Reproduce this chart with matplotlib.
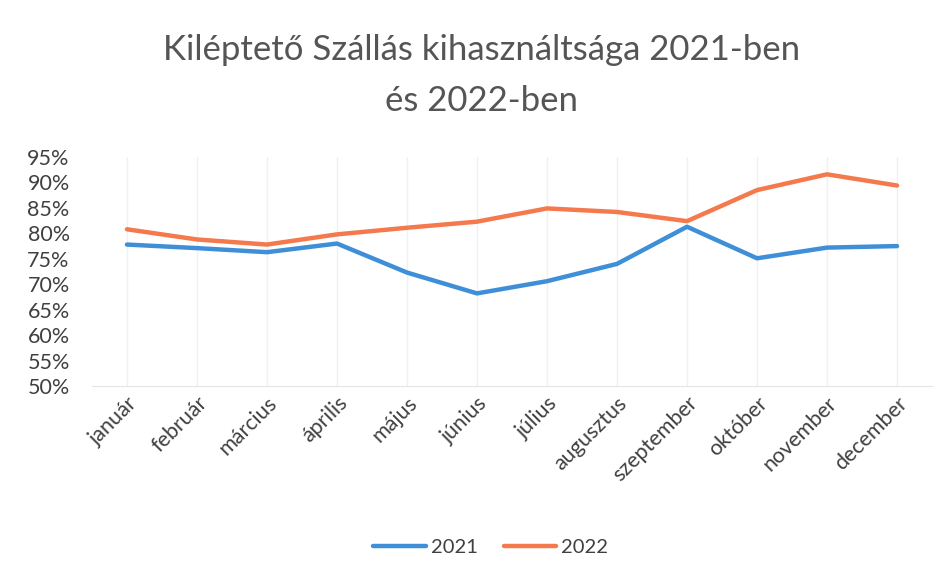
import matplotlib.pyplot as plt
from matplotlib.ticker import PercentFormatter

plt.rcParams['font.family'] = ['Lato', 'DejaVu Sans']

# havi adatok
months = ['január', 'február', 'március', 'április', 'május', 'június',
          'július', 'augusztus', 'szeptember', 'október', 'november', 'december']
occ_2021 = [77.8, 77.1, 76.3, 78.0, 72.3, 68.2, 70.6, 74.0, 81.3, 75.1, 77.2, 77.5]
occ_2022 = [80.8, 78.8, 77.8, 79.8, 81.1, 82.3, 84.9, 84.2, 82.4, 88.5, 91.6, 89.4]
y_ticks = [50, 55, 60, 65, 70, 75, 80, 85, 90, 95]

text_col = '#404040'

fig = plt.figure(figsize=(9.53, 5.79), dpi=100)
ax = fig.add_axes([0.0965, 0.3333, 0.8815, 0.3955])

x = range(len(months))
ax.plot(x, occ_2021, color='#3f8fd8', lw=3.2, label='2021', solid_capstyle='round')
ax.plot(x, occ_2022, color='#f47a4e', lw=3.2, label='2022', solid_capstyle='round')

ax.set_xlim(-0.5, len(months) - 0.5)
ax.set_ylim(50, 95)
ax.set_yticks(y_ticks)
ax.yaxis.set_major_formatter(PercentFormatter(decimals=0))
ax.set_xticks(list(x))
ax.set_xticklabels(months, rotation=45, ha='right', rotation_mode='anchor')

# halvány függőleges rácsvonalak
ax.grid(axis='x', color='#f0f0f0', lw=1)
ax.set_axisbelow(True)
for s in ['top', 'right', 'left']:
    ax.spines[s].set_visible(False)
ax.spines['bottom'].set_color('#e4e4e4')
ax.tick_params(axis='both', length=0, labelsize=15.5, colors=text_col)
ax.tick_params(axis='y', pad=16)
ax.tick_params(axis='x', pad=5)

fig.text(0.505, 0.913, 'Kiléptető Szállás kihasználtsága 2021-ben', ha='center',
         va='center', fontsize=25, color='#555555')
fig.text(0.505, 0.826, 'és 2022-ben', ha='center', va='center', fontsize=25,
         color='#555555')

fig.legend(loc='center', bbox_to_anchor=(0.515, 0.055), ncol=2, frameon=False,
           fontsize=14.5, handlelength=2.6, columnspacing=1.3, handletextpad=0.25,
           labelcolor=text_col)

fig.savefig('out.png', dpi=100, facecolor='white')
